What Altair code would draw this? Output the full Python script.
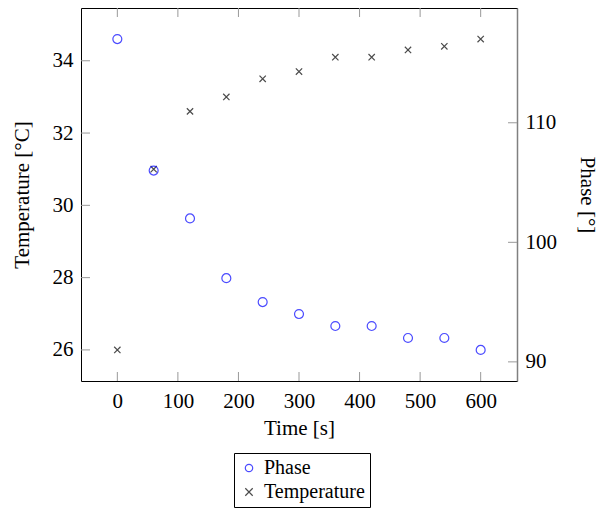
import altair as alt
import pandas as pd

time_s = [0, 60, 120, 180, 240, 300, 360, 420, 480, 540, 600]
phase_deg = [117, 106, 102, 97, 95, 94, 93, 93, 92, 92, 91]
temperature_c = [26.0, 31.0, 32.6, 33.0, 33.5, 33.7, 34.1, 34.1, 34.3, 34.4, 34.6]

x_ticks = [0, 100, 200, 300, 400, 500, 600]
temp_ticks = [26, 28, 30, 32, 34]
phase_ticks = [90, 100, 110]

series_names = ["Phase", "Temperature"]
series_colors = ["#0000ff", "#000000"]
cross_path = "M-1,-1L1,1M-1,1L1,-1"
series_shapes = ["circle", cross_path]

FONT = "Liberation Serif"
FS = 21
W, H = 436, 373

df_phase = pd.DataFrame({"t": time_s, "v": phase_deg, "series": "Phase"})
df_temp = pd.DataFrame({"t": time_s, "v": temperature_c, "series": "Temperature"})
df_xt = pd.DataFrame({"t": x_ticks})
df_tt = pd.DataFrame({"v": temp_ticks})
df_pt = pd.DataFrame({"v": phase_ticks})

xscale = alt.Scale(domain=[-60, 660], nice=False, zero=False)
tscale = alt.Scale(domain=[25.14, 35.46], nice=False, zero=False)
pscale = alt.Scale(domain=[88.4, 119.6], nice=False, zero=False)

legend = alt.Legend(
    title=None, orient="none", legendX=153, legendY=445,
    strokeColor="black", fillColor="white", padding=5, cornerRadius=0,
    labelFont=FONT, labelFontSize=20, labelColor="black", labelOffset=5,
    symbolStrokeWidth=1.2, symbolSize=55, rowPadding=4,
)
color = alt.Color("series:N", scale=alt.Scale(domain=series_names, range=series_colors), legend=legend)
shape = alt.Shape("series:N", scale=alt.Scale(domain=series_names, range=series_shapes), legend=legend)

common = dict(labelFont=FONT, titleFont=FONT, labelFontSize=FS, titleFontSize=FS,
              labelColor="black", titleColor="black", titleFontWeight="normal",
              ticks=False, grid=False)

xaxis = alt.Axis(values=x_ticks, title="Time [s]", domain=False,
                 labelPadding=9, titlePadding=6, labelFlush=False, **common)

temp_pts = alt.Chart(df_temp).mark_point(filled=False, size=40, strokeWidth=1.2).encode(
    x=alt.X("t:Q", scale=xscale, axis=xaxis),
    y=alt.Y("v:Q", scale=tscale, axis=alt.Axis(
        values=temp_ticks, title="Temperature [°C]", orient="left",
        domain=False, labelPadding=8, titlePadding=20, **common)),
    color=color, shape=shape,
)
temp_ticks_layer = alt.Chart(df_tt).mark_rule(color="#999999", strokeWidth=1).encode(
    y=alt.Y("v:Q", scale=tscale), x=alt.value(0), x2=alt.value(9),
)
xtick_bottom = alt.Chart(df_xt).mark_rule(color="#999999", strokeWidth=1).encode(
    x=alt.X("t:Q", scale=xscale), y=alt.value(H), y2=alt.value(H - 9),
)
xtick_top = alt.Chart(df_xt).mark_rule(color="#999999", strokeWidth=1).encode(
    x=alt.X("t:Q", scale=xscale), y=alt.value(0), y2=alt.value(9),
)

phase_pts = alt.Chart(df_phase).mark_point(filled=False, size=80, strokeWidth=1.2).encode(
    x=alt.X("t:Q", scale=xscale),
    y=alt.Y("v:Q", scale=pscale, axis=alt.Axis(
        values=phase_ticks, title="Phase [°]", orient="right",
        domain=True, domainColor="#808080", domainWidth=1.5,
        labelPadding=8, titlePadding=20, **common)),
    color=color, shape=shape,
)
phase_ticks_layer = alt.Chart(df_pt).mark_rule(color="#999999", strokeWidth=1).encode(
    y=alt.Y("v:Q", scale=pscale), x=alt.value(W), x2=alt.value(W - 9),
)

left = alt.layer(temp_ticks_layer, xtick_bottom, xtick_top, temp_pts)
right = alt.layer(phase_ticks_layer, phase_pts)

chart = alt.layer(left, right).resolve_scale(y="independent").properties(
    width=W, height=H, background="white",
    autosize=alt.AutoSizeParams(type="none"),
    padding={"left": 73, "top": 0, "right": 85, "bottom": 131},
).configure_view(stroke="black", strokeWidth=1).configure_legend(
    labelFont=FONT, labelFontSize=20, labelColor="black",
)

chart.save("out.html", embed_options={"renderer": "svg", "actions": False})
